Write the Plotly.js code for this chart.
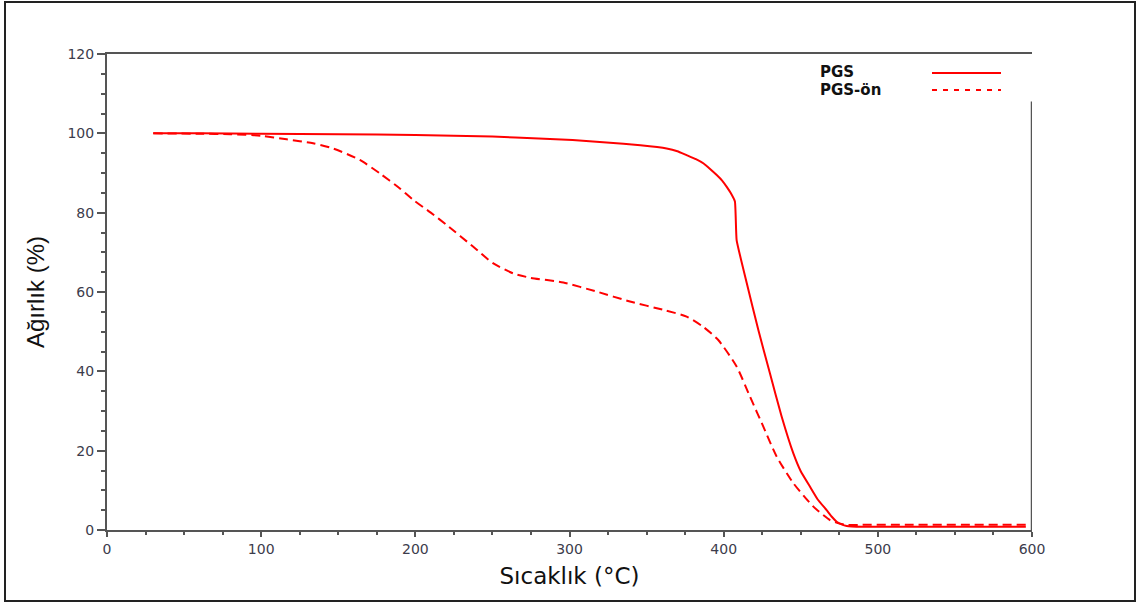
<!DOCTYPE html>
<html>
<head>
<meta charset="utf-8">
<script src="https://cdn.plot.ly/plotly-3.0.1.min.js"></script>
<style>html,body{margin:0;padding:0;background:#fff;}#chart{width:1139px;height:603px;}</style>
</head>
<body>
<div id="chart"></div>
<script>
// Temperature (°C) and weight (%)
const pgsTemp = [30, 60, 100, 150, 200, 250, 280, 302, 324, 346, 363, 370, 376, 382, 387, 391, 395.5, 399, 402, 404.5, 407.3, 408.4, 415, 422.5, 430, 437.6, 445.2, 450, 456, 461, 466.8, 470, 473.3, 476.5, 479.8, 490, 520, 560, 596];
const pgsWeight = [100, 100, 99.9, 99.8, 99.6, 99.2, 98.7, 98.3, 97.7, 97.0, 96.2, 95.5, 94.5, 93.5, 92.4, 91.1, 89.5, 88.1, 86.5, 85.0, 82.8, 73.1, 62.2, 50.4, 39.5, 28.6, 19.3, 14.8, 10.9, 7.7, 5.0, 3.4, 2.1, 1.4, 1.0, 0.8, 0.8, 0.8, 0.8];

const onTemp = [30, 60, 80, 100, 116.5, 133.7, 146.6, 164, 177, 190, 198.7, 210, 220.3, 237.6, 250.6, 263.5, 274.4, 296, 317.6, 339.2, 360.8, 376, 386.8, 396.5, 408.4, 417.1, 425.8, 434.4, 445.2, 458.2, 469, 475.4, 479.8, 490, 520, 560, 596];
const onWeight = [100, 99.9, 99.8, 99.4, 98.5, 97.5, 96.2, 93.3, 89.9, 86.1, 83.2, 80.0, 76.9, 71.4, 67.2, 64.7, 63.6, 62.4, 60.1, 57.6, 55.5, 53.8, 51.2, 47.9, 41.2, 33.6, 26.0, 18.5, 11.8, 5.9, 2.5, 1.6, 1.3, 1.3, 1.3, 1.3, 1.3];

const seriesNames = ["PGS", "PGS-ön"];
const xTickVals = [0, 100, 200, 300, 400, 500, 600];
const yTickVals = [0, 20, 40, 60, 80, 100, 120];

const RED = "rgb(255,0,0)";
const AX = "#555555";
const TICKFONT = {family: "DejaVu Sans, Arial, sans-serif", size: 14, color: "#3c3c4c"};

const traces = [
  {x: pgsTemp, y: pgsWeight, name: seriesNames[0], mode: "lines", line: {color: RED, width: 2, shape: "spline", smoothing: 0.35}, showlegend: false},
  {x: onTemp, y: onWeight, name: seriesNames[1], mode: "lines", line: {color: RED, width: 2, dash: "9px,5px", shape: "spline", smoothing: 0.6}, showlegend: false}
];

function px2x(px){ return (px - 107) / 925; }
function py2y(py){ return (530 - py) / 476; }

const layout = {
  width: 1139, height: 603,
  margin: {l: 107, r: 107, t: 54, b: 73},
  paper_bgcolor: "#ffffff", plot_bgcolor: "#ffffff",
  showlegend: false,
  xaxis: {
    range: [0, 600], tickvals: xTickVals, ticktext: xTickVals.map(String),
    showgrid: false, zeroline: false, showline: true, linecolor: AX, linewidth: 2, mirror: true,
    ticks: "outside", ticklen: 5, tickwidth: 2, tickcolor: AX,
    minor: {dtick: 25, tick0: 0, ticks: "outside", ticklen: 3, tickwidth: 2, tickcolor: AX, showgrid: false},
    tickfont: TICKFONT,
    title: {text: "Sıcaklık (°C)", font: {family: "DejaVu Sans, Arial, sans-serif", size: 23, color: "#111"}, standoff: 12}
  },
  yaxis: {
    range: [0, 120], tickvals: yTickVals, ticktext: yTickVals.map(String),
    showgrid: false, zeroline: false, showline: true, linecolor: AX, linewidth: 2,
    ticks: "outside", ticklen: 8, tickwidth: 2, tickcolor: AX,
    minor: {dtick: 5, tick0: 0, ticks: "outside", ticklen: 4, tickwidth: 2, tickcolor: AX, showgrid: false},
    tickfont: TICKFONT,
    title: {text: "Ağırlık (%)", font: {family: "Liberation Sans, Arial, sans-serif", size: 24, color: "#111"}, standoff: 16}
  },
  shapes: [
    // outer frame
    {type: "rect", xref: "paper", yref: "paper", x0: px2x(5), x1: px2x(1135), y0: py2y(601), y1: py2y(2), line: {color: "#222", width: 2}, fillcolor: "rgba(0,0,0,0)", layer: "below"},
    // partial right border
    {type: "line", xref: "x", yref: "y", x0: 600, x1: 600, y0: 0, y1: 108, line: {color: AX, width: 2.5}},
    // legend samples
    {type: "line", xref: "paper", yref: "paper", x0: px2x(932), x1: px2x(1001), y0: py2y(73), y1: py2y(73), line: {color: RED, width: 2}},
    {type: "line", xref: "paper", yref: "paper", x0: px2x(932), x1: px2x(1001), y0: py2y(90), y1: py2y(90), line: {color: RED, width: 2, dash: "5px,6px"}}
  ],
  annotations: [
    {xref: "paper", yref: "paper", x: px2x(818), y: py2y(72), xanchor: "left", yanchor: "middle", showarrow: false, text: "<b>" + seriesNames[0] + "</b>", font: {family: "DejaVu Sans, Arial, sans-serif", size: 15, color: "#111"}},
    {xref: "paper", yref: "paper", x: px2x(818), y: py2y(90), xanchor: "left", yanchor: "middle", showarrow: false, text: "<b>" + seriesNames[1] + "</b>", font: {family: "DejaVu Sans, Arial, sans-serif", size: 15, color: "#111"}}
  ]
};

Plotly.newPlot("chart", traces, layout, {staticPlot: true, displayModeBar: false});
</script>
</body>
</html>
